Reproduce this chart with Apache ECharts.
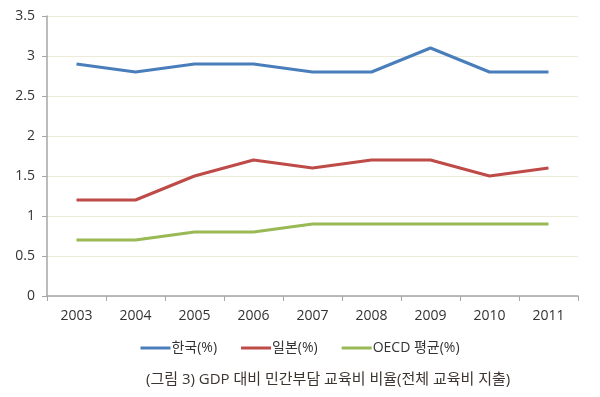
<!DOCTYPE html>
<html>
<head>
<meta charset="utf-8">
<script src="https://cdn.jsdelivr.net/npm/echarts@6/dist/echarts.min.js"></script>
<style>
  html, body { margin: 0; padding: 0; background: #fff; }
  #chart { width: 600px; height: 397px; }
</style>
</head>
<body>
<div id="chart"></div>
<script>
const years = ['2003', '2004', '2005', '2006', '2007', '2008', '2009', '2010', '2011']
const korea = [2.9, 2.8, 2.9, 2.9, 2.8, 2.8, 3.1, 2.8, 2.8]
const japan = [1.2, 1.2, 1.5, 1.7, 1.6, 1.7, 1.7, 1.5, 1.6]
const oecd = [0.7, 0.7, 0.8, 0.8, 0.9, 0.9, 0.9, 0.9, 0.9]
const seriesNames = ['한국(%)', '일본(%)', 'OECD 평균(%)']
const colorList = ['#4a7ebb', '#be4b48', '#98b954']

const chart = echarts.init(document.getElementById('chart'), null, { renderer: 'canvas' })
const font = '"Open Sans", "Noto Sans CJK KR", sans-serif'

function line(name, data, color) {
  return {
    name: name,
    type: 'line',
    data: data,
    showSymbol: false,
    symbol: 'none',
    lineStyle: { color: color, width: 3 },
    itemStyle: { color: color }
  }
}

const option = {
  animation: false,
  textStyle: { fontFamily: font },
  title: {
    text: '(그림 3) GDP 대비 민간부담 교육비 비율(전체 교육비 지출)',
    left: 141,
    top: 367,
    textStyle: { fontSize: 15, fontWeight: 'normal', color: '#3c3530', fontFamily: font }
  },
  legend: {
    data: seriesNames,
    top: 336,
    left: 'center',
    icon: 'rect',
    itemWidth: 30,
    itemHeight: 3,
    itemGap: 24,
    textStyle: { fontSize: 14, color: '#333', fontFamily: font, padding: [0, 0, 0, -4] }
  },
  grid: { left: 47, right: 22, top: 16, bottom: 101, containLabel: false },
  xAxis: {
    type: 'category',
    data: years,
    boundaryGap: true,
    axisLine: { lineStyle: { color: '#a6a6a6', width: 1.5 } },
    axisTick: { show: true, length: 5, lineStyle: { color: '#a6a6a6' } },
    axisLabel: { fontSize: 14, color: '#333', margin: 13 }
  },
  yAxis: {
    type: 'value',
    min: 0,
    max: 3.5,
    interval: 0.5,
    axisLine: { show: true, lineStyle: { color: '#a6a6a6', width: 1.5 } },
    axisTick: { show: true, length: 5, lineStyle: { color: '#a6a6a6' } },
    axisLabel: { fontSize: 14, color: '#333', margin: 12 },
    splitLine: { lineStyle: { color: '#ebebd8', width: 1 } }
  },
  series: [
    line(seriesNames[0], korea, colorList[0]),
    line(seriesNames[1], japan, colorList[1]),
    line(seriesNames[2], oecd, colorList[2])
  ]
}

chart.setOption(option)
</script>
</body>
</html>
